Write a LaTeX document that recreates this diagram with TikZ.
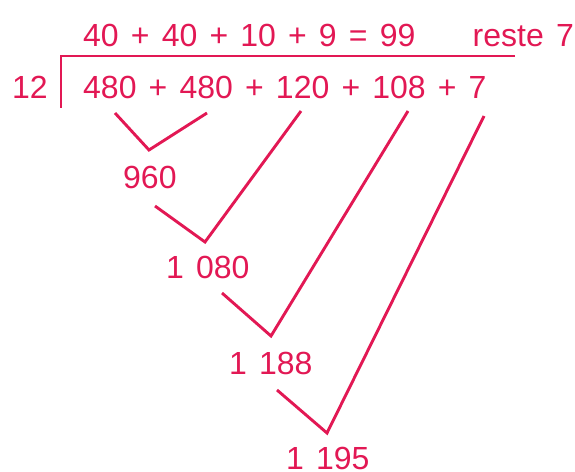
\documentclass[tikz,border=0pt]{standalone}
\usepackage{fontspec}
\setmainfont{Liberation Sans}
\definecolor{ink}{RGB}{226,24,84}
\newcommand\diagfont{\fontsize{32}{36}\selectfont\spaceskip=0.38em\relax}
\tikzset{
  lbl/.style={anchor=base west, inner sep=0pt, text=ink, font=\diagfont},
  link/.style={draw=ink, line width=2.9pt, line cap=butt, line join=miter}
}
\begin{document}
\begin{tikzpicture}[x=1pt,y=-1pt]
\useasboundingbox (0,0) rectangle (575,471);
% texts
\node[lbl] (quot) at (83,46) {40 + 40 + 10 + 9 = 99};
\node[lbl, anchor=base east] (rest) at (574,46) {reste 7};
\node[lbl] (div) at (12,98) {12};
\node[lbl] (dec) at (83,98) {480 + 480 + 120 + 108 + 7};
\node[lbl] (s1) at (123,188) {960};
\node[lbl] (s2) at (166,278) {1 080};
\node[lbl] (s3) at (229,374) {1 188};
\node[lbl] (s4) at (286,469) {1 195};
% division bracket
\coordinate (hl) at (61,56);
\coordinate (hr) at (515,56);
\coordinate (vb) at (61,108);
\draw[link] (hr) -- (hl) -- (vb);
% term ends
\coordinate (t1) at (115,113);
\coordinate (t2) at (207,113);
\coordinate (t3) at (301,111);
\coordinate (t4) at (408,111);
\coordinate (t5) at (484,116);
% vertices
\coordinate (v1) at (149,150);
\coordinate (v2) at (205,242);
\coordinate (v3) at (271,336);
\coordinate (v4) at (327,433);
% sum starts
\coordinate (u1) at (155,206);
\coordinate (u2) at (222,293);
\coordinate (u3) at (277,390);
\draw[link] (t1) -- (v1) -- (t2);
\draw[link] (u1) -- (v2) -- (t3);
\draw[link] (u2) -- (v3) -- (t4);
\draw[link] (u3) -- (v4) -- (t5);
\end{tikzpicture}
\end{document}
